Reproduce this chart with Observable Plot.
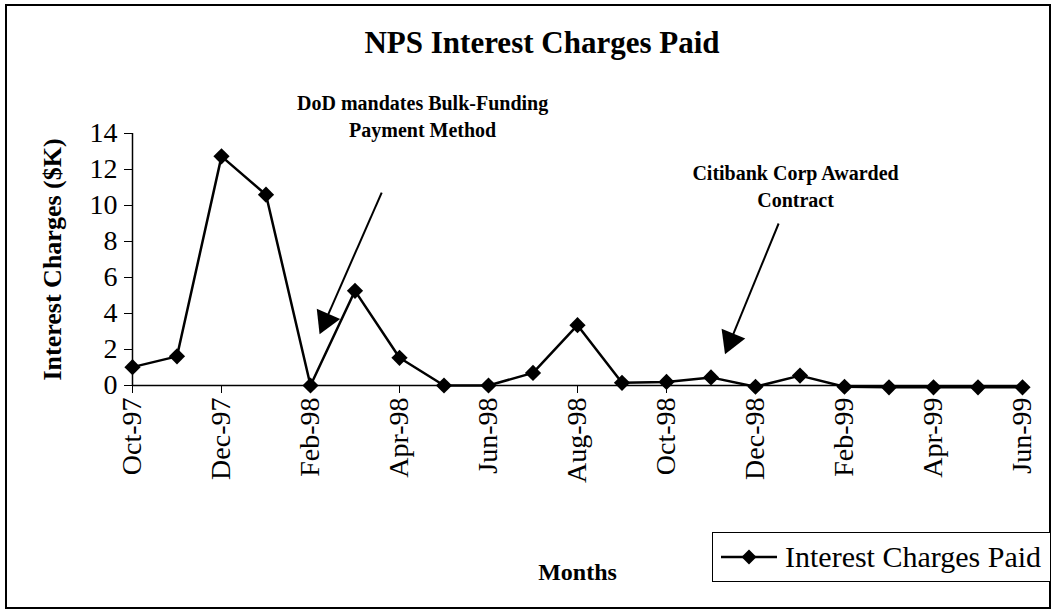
<!DOCTYPE html>
<html><head><meta charset="utf-8">
<script src="https://cdn.jsdelivr.net/npm/d3@7"></script>
<script src="https://cdn.jsdelivr.net/npm/@observablehq/plot@0.6"></script>
<style>
body{margin:0;background:#fff;font-family:"Liberation Serif",serif;}
#wrap{position:relative;width:1058px;height:613px;overflow:hidden;}
#border{position:absolute;left:5px;top:4px;width:1046px;height:605px;border:2px solid #000;box-sizing:border-box;}
#chart{position:absolute;left:0;top:0;}
#title{position:absolute;left:292px;top:26px;width:500px;text-align:center;font-weight:bold;font-size:31px;line-height:34px;}
#legend{position:absolute;left:712px;top:532px;width:339px;height:50px;border:1.5px solid #000;box-sizing:border-box;display:flex;align-items:center;padding-left:8px;font-size:30px;background:#fff;}
#legend svg{margin-right:8px;}
</style></head><body>
<div id="wrap">
<div id="border"></div>
<div id="chart"></div>
<div id="title">NPS Interest Charges Paid</div>
<div id="legend"><svg width="56" height="20"><line x1="0" y1="10" x2="56" y2="10" stroke="#000" stroke-width="2.5"/><path d="M28,2.5L35.5,10L28,17.5L20.5,10Z" fill="#000"/></svg><span>Interest Charges Paid</span></div>
</div>
<script>
// ---- data ----
const months = ["Oct-97","Nov-97","Dec-97","Jan-98","Feb-98","Mar-98","Apr-98","May-98","Jun-98","Jul-98","Aug-98","Sep-98","Oct-98","Nov-98","Dec-98","Jan-99","Feb-99","Mar-99","Apr-99","May-99","Jun-99"];
const interest = [1.02,1.62,12.73,10.6,0,5.26,1.54,0,0,0.7,3.35,0.15,0.2,0.45,-0.07,0.55,-0.07,-0.1,-0.1,-0.1,-0.1];
const yTicks = [0,2,4,6,8,10,12,14];
const xTickIdx = [0,2,4,6,8,10,12,14,16,18,20];
const yLabel = "Interest Charges ($K)";
const xLabel = "Months";
// annotations (x in month index, y in $K)
const annoText = ["DoD mandates Bulk-Funding\nPayment Method", "Citibank Corp Awarded\nContract"];
const annoX = [6.52, 14.9];
const annoY = [15.03, 11.14];
const arrowX1 = [5.6, 14.52], arrowY1 = [10.72, 9.0];
const arrowX2 = [4.22, 13.33], arrowY2 = [2.94, 1.83];

// ---- layout ----
const W = 1058, H = 613, mL = 132, mR = 36, mT = 133, mB = 228;
const kx = (W - mL - mR) / 20, ky = (H - mT - mB) / 14;

const data = months.map((m, i) => ({i, m, v: interest[i]}));
const annos = annoText.map((t, k) => ({t, x: annoX[k], y: annoY[k]}));
const arrows = arrowX1.map((_, k) => {
  const dxp = (arrowX2[k] - arrowX1[k]) * kx, dyp = -(arrowY2[k] - arrowY1[k]) * ky;
  const len = Math.hypot(dxp, dyp), ux = dxp / len, uy = dyp / len;
  const back = 13;
  return {x1: arrowX1[k], y1: arrowY1[k], x2: arrowX2[k], y2: arrowY2[k],
    hx: arrowX2[k] - back * ux / kx, hy: arrowY2[k] + back * uy / ky,
    rot: Math.atan2(ux, -uy) * 180 / Math.PI};
});

const plot = Plot.plot({
  width: W, height: H,
  marginLeft: mL, marginRight: mR, marginTop: mT, marginBottom: mB,
  style: {fontFamily: "'Liberation Serif', serif", fontSize: "28px", color: "#000", background: "transparent", overflow: "visible"},
  x: {type: "linear", domain: [0, 20]},
  y: {domain: [0, 14]},
  marks: [
    Plot.axisY({ticks: yTicks, tickSize: 8, tickPadding: 7, fontSize: 28, fontFamily: "Liberation Serif", label: null}),
    Plot.axisX({ticks: xTickIdx, tickFormat: i => months[i], tickRotate: -90, tickSize: 8, tickPadding: 4, fontSize: 28, fontFamily: "Liberation Serif", label: null}),
    Plot.ruleY([0], {stroke: "#000", strokeWidth: 1.5}),
    Plot.ruleX([0], {stroke: "#000", strokeWidth: 1.5}),
    Plot.line(data, {x: "i", y: "v", stroke: "#000", strokeWidth: 2.5}),
    Plot.dot(data, {x: "i", y: "v", symbol: "diamond2", r: 7.3, fill: "#000", stroke: "none"}),
    Plot.link(arrows, {x1: "x1", y1: "y1", x2: "hx", y2: "hy", stroke: "#000", strokeWidth: 2}),
    Plot.dot(arrows, {x: "hx", y: "hy", symbol: "triangle", r: 9.5, rotate: "rot", fill: "#000", stroke: "none"}),
    Plot.text(annos, {x: "x", y: "y", text: "t", fontWeight: "bold", fontSize: 20, lineHeight: 1.35, fill: "#000", fontFamily: "Liberation Serif"}),
    Plot.text([yLabel], {frameAnchor: "left", rotate: -90, dx: -80, textAnchor: "middle", fontWeight: "bold", fontSize: 26, fill: "#000", fontFamily: "Liberation Serif"}),
    Plot.text([xLabel], {frameAnchor: "bottom", dy: 194, fontWeight: "bold", fontSize: 24, fill: "#000", fontFamily: "Liberation Serif"})
  ]
});
document.getElementById("chart").appendChild(plot);
</script>
</body></html>
